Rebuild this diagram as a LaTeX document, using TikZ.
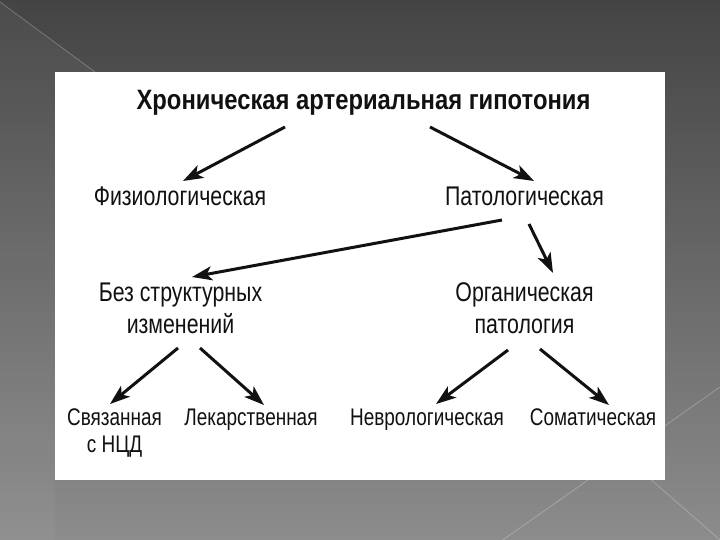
\documentclass[tikz,border=0pt]{standalone}
\usepackage{fontspec}
\setmainfont{Liberation Sans}[FakeStretch=0.79, BoldFeatures={FakeStretch=0.85}]
\usetikzlibrary{arrows.meta}
\definecolor{bgtop}{HTML}{444444}
\definecolor{bgbot}{HTML}{8C8C8C}
\definecolor{ink}{HTML}{111111}
\tikzset{
  lbl/.style={text=ink, inner sep=0pt, anchor=base, font=\fontsize{27}{32}\selectfont, align=center},
  sml/.style={text=ink, inner sep=0pt, anchor=base, font=\fontsize{24}{27}\selectfont, align=center},
  ttl/.style={text=ink, inner sep=0pt, anchor=base, font=\fontsize{28}{32}\selectfont\bfseries},
  arr/.style={draw=ink, line width=3pt, -{Stealth[length=20pt,width=14pt,inset=5pt]}},
  deco/.style={draw=white, opacity=0.25, line width=0.8pt}
}
\begin{document}
\begin{tikzpicture}[x=1pt,y=-1pt]
\useasboundingbox (0,0) rectangle (720,540);
\shade[top color=bgtop, bottom color=bgbot] (0,0) rectangle (720,540);
\fill[white, opacity=0.04] (0,2) -- (95,72) -- (55,72) -- (55,540) -- (0,540) -- cycle;
\draw[deco] (0,2) -- (95,72);
\draw[deco] (720,387) -- (500,542);
\draw[deco] (560,400) -- (720,540);
\fill[white] (55,72) rectangle (665,480);
% nodes (multi-line nodes are anchored on the baseline of their last line)
\node[ttl] (title) at (363.5,110) {Хроническая артериальная гипотония};
\node[lbl] (fiz) at (180,206) {Физиологическая};
\node[lbl] (pat) at (524.5,206) {Патологическая};
\node[lbl] (bez) at (180.5,333) {Без структурных\\изменений};
\node[lbl] (org) at (524.5,333) {Органическая\\патология};
\node[sml] (svy) at (114.5,452) {Связанная\\с НЦД};
\node[sml] (lek) at (251,425) {Лекарственная};
\node[sml] (nev) at (427,425) {Неврологическая};
\node[sml] (som) at (593,425) {Соматическая};
% connector end points
\coordinate (a1s) at (285,127); \coordinate (a1e) at (183,181);
\coordinate (a2s) at (430,127); \coordinate (a2e) at (534,181);
\coordinate (a3s) at (502,220); \coordinate (a3e) at (192,277);
\coordinate (a4s) at (529,224); \coordinate (a4e) at (553,273);
\coordinate (a5s) at (178,348); \coordinate (a5e) at (110,404);
\coordinate (a6s) at (200,348); \coordinate (a6e) at (264,405);
\coordinate (a7s) at (508,350); \coordinate (a7e) at (436,404);
\coordinate (a8s) at (540,349); \coordinate (a8e) at (609,405);
\draw[arr] (a1s) -- (a1e);
\draw[arr] (a2s) -- (a2e);
\draw[arr] (a3s) -- (a3e);
\draw[arr] (a4s) -- (a4e);
\draw[arr] (a5s) -- (a5e);
\draw[arr] (a6s) -- (a6e);
\draw[arr] (a7s) -- (a7e);
\draw[arr] (a8s) -- (a8e);
\end{tikzpicture}
\end{document}
